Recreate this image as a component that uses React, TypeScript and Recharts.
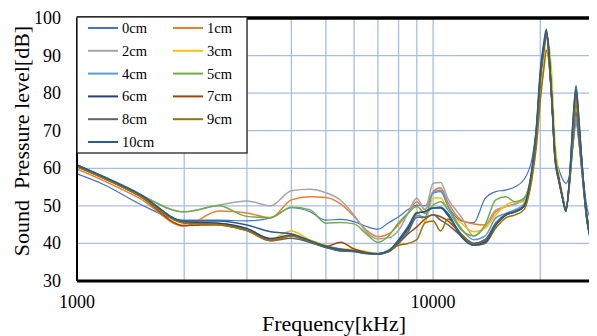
import React from 'react';
import { LineChart, Line, XAxis, YAxis, CartesianGrid, ReferenceLine } from 'recharts';

const FREQ = [1000, 1200, 1500, 2000, 2500, 3000, 3500, 4000, 4500, 5000, 5500, 6000, 6500, 7000, 7500, 8000, 8500, 9000, 9500, 10000, 10500, 11000, 12000, 13000, 14000, 15000, 16000, 17000, 18000, 19000, 19500, 20000, 20500, 20800, 21500, 22000, 22500, 23000, 23600, 24200, 24700, 25200, 25700, 26200, 27000, 28000, 29000, 30000];

const S0 = [58.5, 55.5, 50.5, 46.2, 46.2, 46.0, 46.8, 49.5, 48.5, 46.2, 46.4, 45.8, 44.5, 43.8, 45.5, 47.1, 49.0, 50.2, 50.0, 53.4, 53.8, 50.0, 46.0, 45.5, 52.0, 53.8, 54.2, 55.1, 57.0, 63.0, 71.0, 84.0, 92.0, 95.0, 79.0, 64.0, 60.0, 57.5, 56.0, 58.5, 66.0, 72.0, 67.0, 60.0, 50.0, 45.5, 44.0, 43.0];
const S1 = [59.8, 56.5, 52.0, 44.6, 48.6, 48.1, 46.8, 51.6, 52.4, 52.2, 50.5, 47.2, 43.5, 41.8, 42.5, 45.0, 48.0, 51.1, 49.0, 53.8, 54.8, 51.0, 46.2, 45.2, 44.9, 48.4, 49.8, 50.5, 52.0, 60.0, 69.0, 84.0, 92.5, 96.0, 80.0, 62.0, 57.0, 52.5, 49.0, 57.0, 69.0, 79.0, 70.0, 60.0, 47.0, 40.5, 38.5, 38.0];
const S2 = [60.5, 57.2, 53.0, 48.4, 50.2, 51.3, 50.0, 54.0, 54.4, 53.5, 51.5, 47.5, 43.0, 41.2, 41.5, 43.5, 48.0, 52.0, 49.0, 56.0, 56.2, 52.0, 47.1, 42.0, 44.4, 48.9, 49.8, 50.5, 51.5, 59.0, 68.0, 84.0, 92.0, 96.0, 80.0, 63.0, 57.5, 53.0, 49.0, 57.0, 67.0, 75.0, 67.0, 59.0, 46.5, 40.0, 38.0, 37.5];
const S3 = [60.5, 57.2, 52.8, 45.5, 45.2, 43.8, 41.2, 43.3, 41.0, 39.5, 38.5, 38.4, 37.8, 37.4, 38.0, 40.0, 44.0, 48.4, 45.8, 52.1, 52.1, 49.0, 45.4, 43.1, 44.1, 47.6, 50.2, 51.1, 51.0, 58.0, 66.0, 79.0, 89.0, 95.5, 86.0, 67.0, 59.0, 54.0, 49.5, 56.0, 68.0, 76.0, 71.0, 61.0, 47.0, 40.0, 38.0, 37.5];
const S4 = [60.6, 57.3, 52.9, 45.7, 45.3, 43.7, 41.0, 42.3, 40.6, 39.0, 38.0, 38.0, 37.5, 37.3, 38.2, 40.5, 43.5, 47.5, 47.0, 53.5, 54.2, 50.0, 44.0, 41.0, 42.0, 46.8, 48.0, 49.0, 50.5, 59.0, 68.0, 84.0, 92.0, 96.0, 80.0, 63.0, 57.5, 53.0, 49.0, 57.0, 66.0, 73.0, 67.0, 59.0, 46.5, 40.0, 38.0, 37.5];
const S5 = [60.8, 57.4, 53.0, 48.4, 50.0, 47.2, 46.9, 49.6, 49.0, 45.4, 45.6, 45.2, 42.5, 40.3, 42.0, 45.5, 48.0, 49.8, 48.0, 50.2, 51.1, 49.0, 43.6, 42.0, 45.0, 51.6, 52.4, 51.1, 52.0, 60.0, 69.0, 84.0, 92.5, 96.0, 80.0, 62.5, 57.0, 53.0, 49.0, 57.5, 69.0, 78.0, 70.0, 60.0, 47.0, 40.0, 38.0, 37.5];
const S6 = [60.9, 57.5, 53.0, 45.8, 45.4, 44.0, 41.3, 42.2, 40.5, 39.0, 38.3, 38.0, 37.3, 37.2, 38.0, 40.8, 44.0, 48.1, 48.5, 49.4, 49.4, 47.5, 41.8, 39.6, 40.5, 44.9, 47.6, 48.4, 49.8, 60.0, 70.0, 85.0, 93.0, 96.5, 80.0, 63.0, 57.5, 53.0, 48.5, 58.0, 72.0, 81.0, 72.0, 61.0, 47.0, 39.5, 37.5, 37.0];
const S7 = [60.5, 57.2, 52.6, 44.8, 45.0, 43.5, 40.8, 42.0, 40.4, 39.2, 40.3, 38.5, 37.6, 37.2, 37.8, 40.0, 42.5, 44.4, 46.5, 47.6, 47.1, 46.0, 42.5, 40.0, 41.0, 45.0, 47.5, 48.5, 50.0, 60.0, 69.0, 84.0, 92.5, 96.0, 80.0, 63.0, 57.5, 53.0, 49.0, 58.0, 71.0, 80.0, 71.0, 61.0, 48.0, 42.5, 41.0, 40.5];
const S8 = [60.6, 57.3, 52.8, 45.6, 45.0, 43.4, 40.7, 41.4, 40.3, 38.9, 38.0, 37.8, 37.3, 37.1, 37.8, 40.3, 43.0, 47.0, 47.0, 47.6, 46.2, 45.0, 42.0, 40.0, 41.0, 45.5, 47.8, 48.6, 50.0, 59.0, 68.0, 83.0, 92.0, 95.0, 79.0, 62.5, 57.0, 53.0, 49.0, 57.0, 67.0, 75.0, 67.0, 59.0, 46.5, 40.0, 38.0, 37.5];
const S9 = [60.4, 57.1, 52.6, 45.4, 45.0, 43.4, 40.8, 42.0, 40.6, 39.3, 38.5, 38.0, 37.4, 37.2, 38.0, 39.5, 40.0, 41.0, 45.5, 46.0, 43.3, 46.5, 42.5, 39.5, 40.0, 44.1, 46.8, 47.6, 49.0, 58.0, 66.0, 78.0, 87.0, 91.5, 80.0, 64.0, 57.5, 53.0, 49.5, 57.0, 69.0, 77.0, 70.0, 60.0, 47.0, 40.0, 38.0, 37.5];
const S10 = [60.9, 57.6, 53.2, 46.0, 46.0, 44.9, 43.1, 42.5, 40.8, 39.2, 38.4, 38.0, 37.4, 37.2, 38.0, 41.0, 44.5, 48.1, 48.5, 49.4, 49.6, 48.0, 42.0, 39.5, 40.2, 44.9, 47.6, 48.4, 50.0, 61.0, 71.0, 86.0, 94.0, 97.0, 80.0, 63.0, 57.5, 53.0, 48.5, 58.5, 72.5, 82.0, 72.5, 61.0, 47.0, 39.5, 37.5, 37.0];

const SERIES_NAMES = ['0cm', '1cm', '2cm', '3cm', '4cm', '5cm', '6cm', '7cm', '8cm', '9cm', '10cm'];
const SERIES_VALUES = [S0, S1, S2, S3, S4, S5, S6, S7, S8, S9, S10];

const X_TICKS = [1000, 2000, 3000, 4000, 5000, 6000, 7000, 8000, 9000, 10000, 20000, 30000];
const X_LABELED = [1000, 10000];
const Y_TICKS = [30, 40, 50, 60, 70, 80, 90, 100];

const X_TITLE = 'Frequency[kHz]';
const Y_TITLE = 'Sound  Pressure level[dB]';

const COLORS = ['#4472C4', '#ED7D31', '#A5A5A5', '#FFC000', '#5B9BD5', '#70AD47', '#264478', '#9E480E', '#636363', '#997300', '#255E91'];
const FONT = '"Liberation Serif", "Times New Roman", serif';

const rows = FREQ.map((f, i) => {
  const r: any = { f };
  SERIES_NAMES.forEach((n, k) => { r[n] = SERIES_VALUES[k][i]; });
  return r;
});

const XTick = (props: any) => {
  const { x, payload } = props;
  if (!X_LABELED.includes(payload.value)) return <g />;
  return (
    <text x={x} y={308} textAnchor="middle" fontFamily={FONT} fontSize={18} fill="#000">
      {payload.value}
    </text>
  );
};

const YTick = (props: any) => {
  const { y, payload } = props;
  return (
    <text x={61} y={y + 6} textAnchor="end" fontFamily={FONT} fontSize={18} fill="#000">
      {payload.value}
    </text>
  );
};

const LegendBox = () => {
  const rowH = 22.8;
  return (
    <svg width={172} height={138} style={{ position: 'absolute', left: 76, top: 16 }}>
      <rect x={1} y={1} width={170} height={136} fill="#fff" stroke="#222" strokeWidth={1.3} />
      {SERIES_NAMES.map((n, i) => {
        const col = i % 2;
        const row = Math.floor(i / 2);
        const cy = 12 + row * rowH;
        const lx = col === 0 ? 12 : 97;
        return (
          <g key={n}>
            <line x1={lx} x2={lx + 30} y1={cy} y2={cy} stroke={COLORS[i]} strokeWidth={2} />
            <text x={lx + 34} y={cy + 5} fontFamily={FONT} fontSize={14.5} fill="#000">{n}</text>
          </g>
        );
      })}
    </svg>
  );
};

export default function App() {
  return (
    <div style={{ position: 'relative', width: 597, height: 336, overflow: 'hidden', margin: '-8px 0 0 -8px', background: '#fff' }}>
      <LineChart width={612} height={336} data={rows} margin={{ top: 18, right: 9, bottom: 0, left: 0 }}>
        <CartesianGrid stroke="#a7bde5" strokeWidth={1.3} />
        <XAxis
          dataKey="f"
          type="number"
          scale="log"
          domain={[1000, 30000]}
          allowDataOverflow
          ticks={X_TICKS}
          interval={0}
          tick={<XTick />}
          tickLine={false}
          axisLine={{ stroke: '#000', strokeWidth: 3 }}
          height={55}
          label={{
            content: () => (
              <text x={334} y={331} textAnchor="middle" fontFamily={FONT} fontSize={22} fill="#000">{X_TITLE}</text>
            ),
          }}
        />
        <YAxis
          type="number"
          domain={[30, 100]}
          ticks={Y_TICKS}
          interval={0}
          width={77}
          tick={<YTick />}
          tickLine={false}
          axisLine={{ stroke: '#000', strokeWidth: 2 }}
          label={{
            content: () => (
              <text transform="translate(29,141) rotate(-90)" textAnchor="middle" fontFamily={FONT} fontSize={22} fill="#000" style={{ whiteSpace: 'pre' }}>{Y_TITLE}</text>
            ),
          }}
        />
        {SERIES_NAMES.map((n, i) => (
          <Line
            key={n}
            dataKey={n}
            type="monotone"
            stroke={COLORS[i]}
            strokeWidth={i === 0 ? 1.2 : 1.5}
            dot={false}
            activeDot={false}
            isAnimationActive={false}
          />
        ))}
        <ReferenceLine y={100} stroke="#000" strokeWidth={3.5} />
      </LineChart>
      <LegendBox />
    </div>
  );
}
